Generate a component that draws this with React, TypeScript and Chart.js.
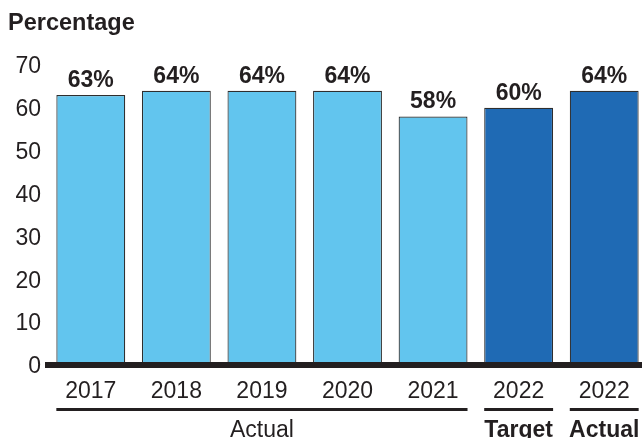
import React, { useEffect, useRef } from "react";
import { Chart, registerables } from "chart.js";

Chart.register(...registerables);

const categories = ["2017", "2018", "2019", "2020", "2021", "2022", "2022"];
const values = [63, 64, 64, 64, 58, 60, 64];
const valueLabels = ["63%", "64%", "64%", "64%", "58%", "60%", "64%"];
const barColors = ["#62c5ee", "#62c5ee", "#62c5ee", "#62c5ee", "#62c5ee", "#1f6ab4", "#1f6ab4"];
const groups = [
  { label: "Actual", from: 0, to: 4, bold: false },
  { label: "Target", from: 5, to: 5, bold: true },
  { label: "Actual", from: 6, to: 6, bold: true },
];
const yTitle = "Percentage";

const FONT = "'Liberation Sans', Arial, sans-serif";
const INK = "#231f20";

const overlay = {
  id: "overlay",
  afterDatasetsDraw(chart: any) {
    const { ctx, chartArea, scales } = chart;
    const y = scales.y;
    const meta = chart.getDatasetMeta(0);
    ctx.save();
    // zero line
    const y0 = y.getPixelForValue(0);
    ctx.fillStyle = INK;
    ctx.fillRect(45, y0 - 3, chartArea.right - 45 + 10, 6);
    // value labels
    ctx.font = `bold 23px ${FONT}`;
    ctx.textAlign = "center";
    ctx.textBaseline = "alphabetic";
    meta.data.forEach((bar: any, i: number) => {
      ctx.fillText(valueLabels[i], bar.x, bar.y - 8);
    });
    // title
    ctx.textAlign = "left";
    ctx.font = `bold 23.5px ${FONT}`;
    ctx.fillText(yTitle, 8, 30);
    // groups
    groups.forEach((g) => {
      const b0 = meta.data[g.from];
      const b1 = meta.data[g.to];
      const l = b0.x - b0.width / 2;
      const r = b1.x + b1.width / 2;
      ctx.fillRect(l, 408, r - l, 3);
      ctx.font = `${g.bold ? "bold " : ""}23px ${FONT}`;
      ctx.textAlign = "center";
      ctx.fillText(g.label, (l + r) / 2, 437);
    });
    ctx.restore();
  },
};

export default function App() {
  const ref = useRef<HTMLCanvasElement | null>(null);
  useEffect(() => {
    document.body.style.overflow = "hidden";
    const chart = new Chart(ref.current as HTMLCanvasElement, {
      type: "bar",
      data: {
        labels: categories,
        datasets: [
          {
            data: values,
            backgroundColor: barColors,
            borderColor: "#2e2e2e",
            borderWidth: 1.2,
            borderSkipped: "bottom",
            barPercentage: 0.805,
            categoryPercentage: 1,
          },
        ],
      },
      options: {
        animation: false,
        responsive: false,
        maintainAspectRatio: false,
        layout: { padding: { top: 65, right: 0, left: 0, bottom: 0 } },
        plugins: { legend: { display: false }, tooltip: { enabled: false }, title: { display: false } },
        scales: {
          x: {
            grid: { display: false, drawTicks: false },
            border: { display: false },
            ticks: { color: INK, font: { family: FONT, size: 23 }, padding: 13, maxRotation: 0 },
            afterFit(scale: any) {
              scale.height = 73;
            },
          },
          y: {
            min: 0,
            max: 70,
            grid: { display: false, drawTicks: false },
            border: { display: false },
            ticks: { stepSize: 10, color: INK, font: { family: FONT, size: 23 }, padding: 7, labelOffset: 2 },
            afterFit(scale: any) {
              scale.width = 48;
            },
          },
        },
      },
      plugins: [overlay],
    });
    return () => chart.destroy();
  }, []);
  return (
    <div style={{ position: "fixed", left: 0, top: 0, width: 647, height: 438 }}>
      <canvas ref={ref} width={647} height={438} style={{ width: 647, height: 438 }} />
    </div>
  );
}
